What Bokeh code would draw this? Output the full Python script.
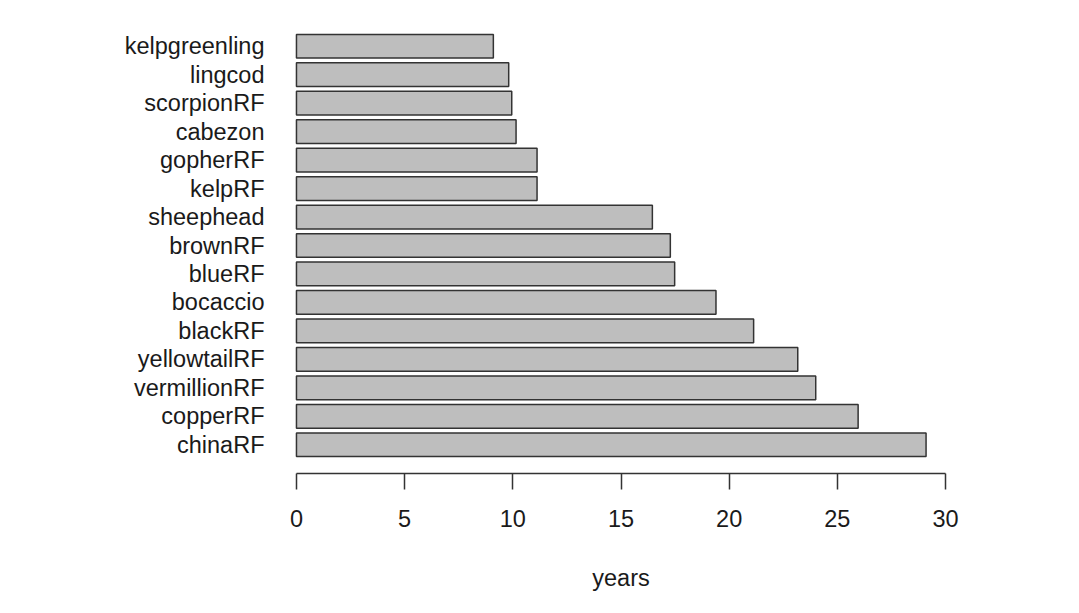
from bokeh.plotting import figure
from bokeh.models import Range1d, FixedTicker
from bokeh.embed import file_html
from bokeh.resources import INLINE

# Data (top to bottom as displayed)
species = ["kelpgreenling", "lingcod", "scorpionRF", "cabezon", "gopherRF", "kelpRF",
           "sheephead", "brownRF", "blueRF", "bocaccio", "blackRF", "yellowtailRF",
           "vermillionRF", "copperRF", "chinaRF"]
years = [9.10, 9.81, 9.95, 10.15, 11.12, 11.12, 16.45, 17.28, 17.48, 19.39,
         21.13, 23.17, 24.00, 25.96, 29.10]
x_ticks = [0, 5, 10, 15, 20, 25, 30]

# R barplot layout: bar width 1, space 0.2, first bar at bottom
n = len(species)
order = list(reversed(range(n)))  # bottom bar is last species
centers = [0.7 + 1.2 * k for k in range(n)]
bar_species = [species[i] for i in order]
bar_values = [years[i] for i in order]

p = figure(width=1063, height=597, output_backend="svg", toolbar_location=None,
           title_location=None,
           x_range=Range1d(-1.2, 31.2), y_range=Range1d(-0.512, 18.712),
           min_border_left=270, min_border_right=92, min_border_top=17,
           min_border_bottom=124)
p.outline_line_color = None
p.grid.visible = False
p.background_fill_color = "white"
p.border_fill_color = "white"

p.hbar(y=centers, left=0, right=bar_values, height=1.0,
       fill_color="#bebebe", line_color="#333333", line_width=1.5)

FONT = "Liberation Sans"

xa = p.xaxis[0]
xa.ticker = FixedTicker(ticks=x_ticks)
xa.bounds = (0, 30)
xa.axis_line_color = "#333333"
xa.axis_line_width = 1.5
xa.major_tick_line_color = "#333333"
xa.major_tick_line_width = 1.5
xa.major_tick_out = 16
xa.major_tick_in = 0
xa.minor_tick_line_color = None
xa.major_label_text_font = FONT
xa.major_label_text_font_size = "23.5px"
xa.major_label_text_color = "#1a1a1a"
xa.major_label_standoff = 20
xa.axis_label = "years"
xa.axis_label_text_font = FONT
xa.axis_label_text_font_size = "23.5px"
xa.axis_label_text_font_style = "normal"
xa.axis_label_text_color = "#1a1a1a"
xa.axis_label_standoff = 35

ya = p.yaxis[0]
ya.ticker = FixedTicker(ticks=centers)
ya.major_label_overrides = {c: s for c, s in zip(centers, bar_species)}
ya.axis_line_color = None
ya.major_tick_line_color = None
ya.minor_tick_line_color = None
ya.major_tick_out = 0
ya.major_tick_in = 0
ya.major_label_standoff = 6
ya.major_label_text_font = FONT
ya.major_label_text_font_size = "23.5px"
ya.major_label_text_color = "#1a1a1a"

open("out.html", "w").write(file_html(p, INLINE))
